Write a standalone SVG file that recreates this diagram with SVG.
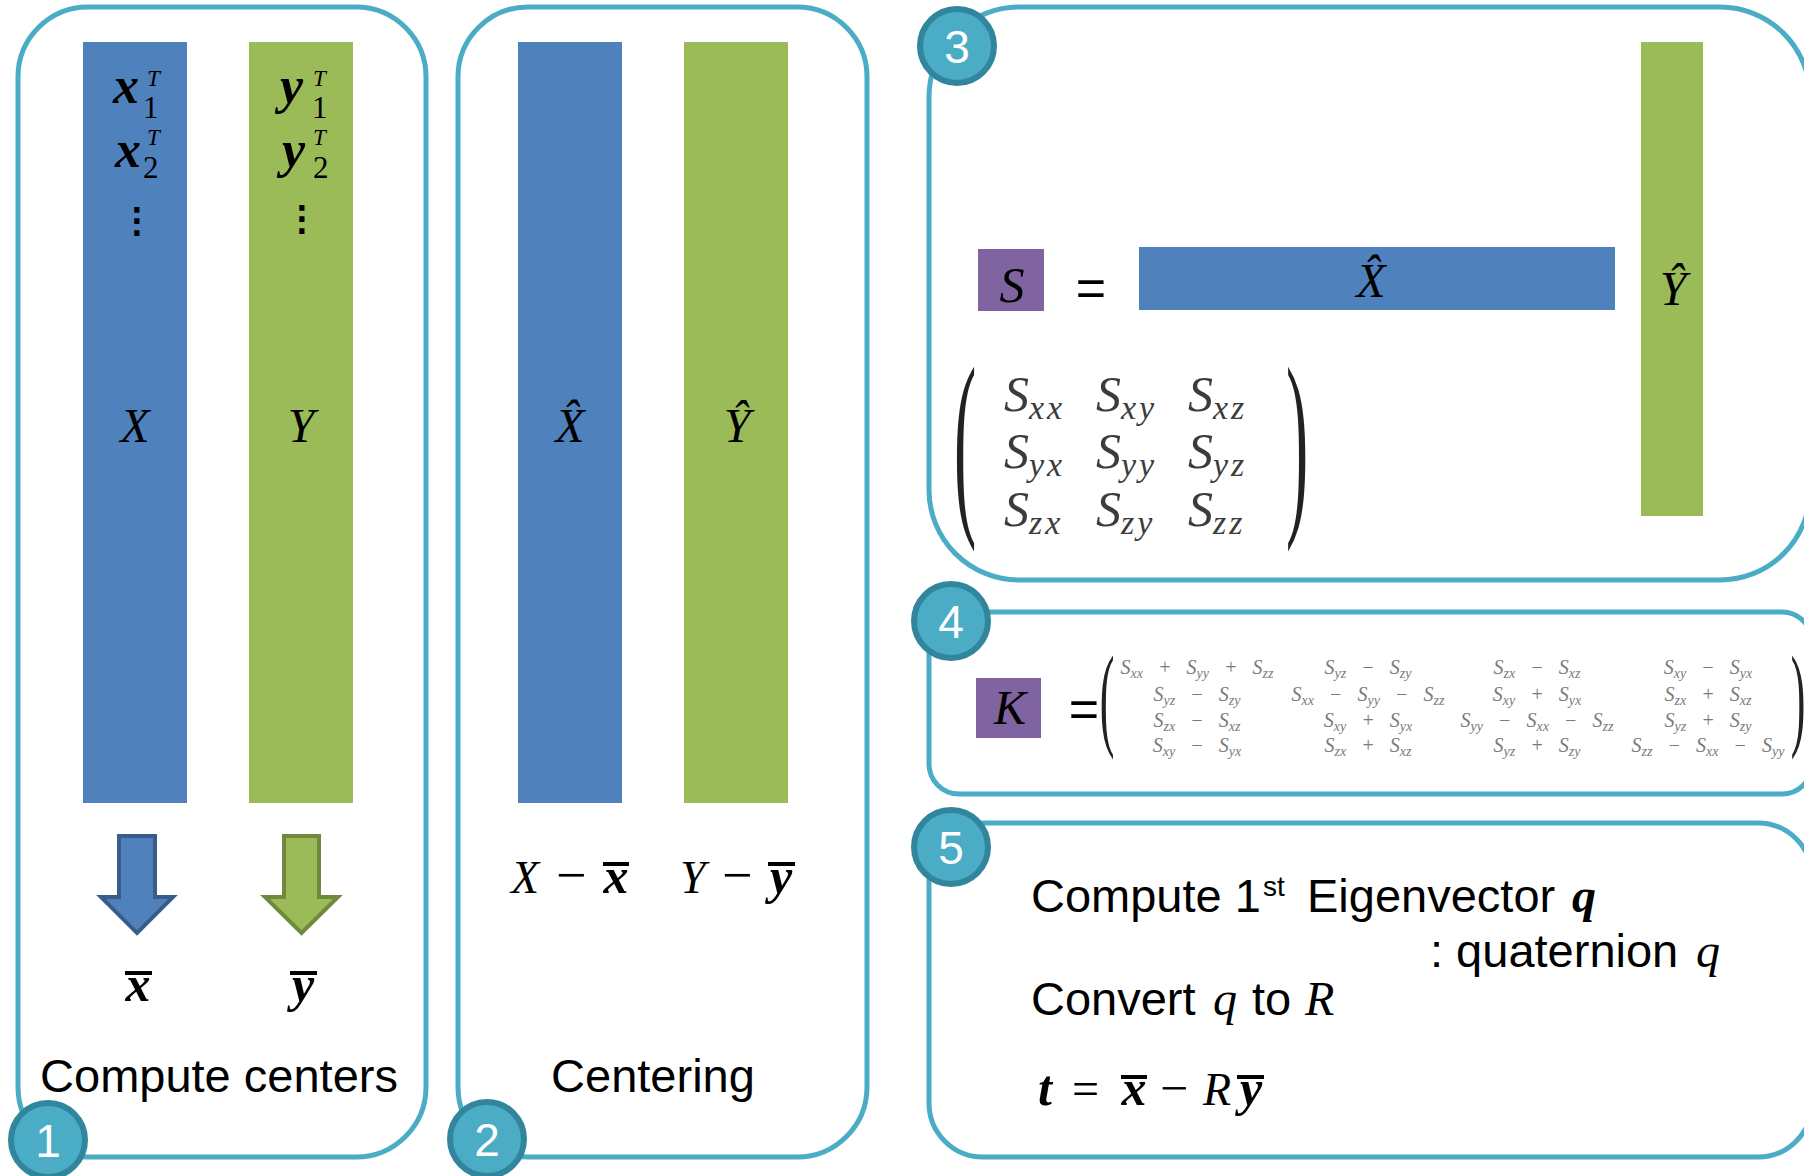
<svg xmlns="http://www.w3.org/2000/svg" width="1804" height="1176" viewBox="0 0 1804 1176">
<style>
.panel{fill:#fff;stroke:#4BACC6;stroke-width:5}
.badge circle{fill:#4BACC6;stroke:#31859C;stroke-width:6}
.badge text{font-family:"Liberation Sans",Arial,sans-serif;font-size:46px;fill:#fff;text-anchor:middle}
.blue{fill:#4F81BD}
.green{fill:#9BBB59}
.purple{fill:#8064A2}
.sans{font-family:"Liberation Sans",Arial,sans-serif;fill:#000}
.m{font-family:"Liberation Serif","Times New Roman",serif;font-style:italic;fill:#000}
.bi{font-weight:bold;font-style:italic}
.up{font-style:normal}
.nw{font-weight:normal}
.mid{text-anchor:middle}
.sub{font-size:31px;font-style:normal;font-weight:normal}
.sup{font-size:23px;font-weight:normal}
.dots{font-family:"DejaVu Sans",sans-serif;font-size:34px;text-anchor:middle;fill:#000;stroke:#000;stroke-width:1.6}
.sm{font-family:"Liberation Serif","Times New Roman",serif;font-style:italic;font-size:50px;fill:#3c3c3c}
.sm tspan{font-size:34px;letter-spacing:3px}
.km{font-family:"Liberation Serif","Times New Roman",serif;font-style:italic;font-size:20px;fill:#7a7a7a;text-anchor:middle;word-spacing:10px}
.km tspan.s{font-size:14px}
.paren{font-family:"Liberation Serif","Times New Roman",serif;fill:#222;text-anchor:middle}
.bar{fill:#000}
</style>

<g id="panel1">
  <rect class="panel" x="18" y="7" width="408" height="1150" rx="70"/>
  <rect class="blue" x="83" y="42" width="104" height="761"/>
  <rect class="green" x="249" y="42" width="104" height="761"/>
  <text x="113" y="103" class="m bi" font-size="52">x<tspan x="143" dy="15" class="sub">1</tspan><tspan x="147" dy="-32" class="sup">T</tspan><tspan x="115" dy="81">x</tspan><tspan x="143" dy="11" class="sub">2</tspan><tspan x="147" dy="-33" class="sup">T</tspan></text>
  <text x="137" y="232" class="dots">⋮</text>
  <text x="280" y="103" class="m bi" font-size="52">y<tspan x="312" dy="15" class="sub">1</tspan><tspan x="313" dy="-32" class="sup">T</tspan><tspan x="282" dy="81">y</tspan><tspan x="313" dy="11" class="sub">2</tspan><tspan x="313" dy="-33" class="sup">T</tspan></text>
  <text x="302" y="230" class="dots">⋮</text>
  <text x="135" y="442" class="m mid" font-size="48">X</text>
  <text x="301" y="442" class="m mid" font-size="48">Y</text>
  <rect class="bar" x="125" y="971" width="27" height="4"/>
  <text x="138" y="1001" class="m bi mid" font-size="50">x</text>
  <rect class="bar" x="290" y="971" width="27" height="4"/>
  <text x="303" y="1001" class="m bi mid" font-size="50">y</text>
  <text x="219" y="1092" class="sans mid" font-size="47">Compute centers</text>
</g>

<g id="panel2">
  <rect class="panel" x="458" y="7" width="409" height="1150" rx="70"/>
  <rect class="blue" x="518" y="42" width="104" height="761"/>
  <rect class="green" x="684" y="42" width="104" height="761"/>
  <text x="570" y="442" class="m mid" font-size="48">X̂</text>
  <text x="737" y="442" class="m mid" font-size="48">Ŷ</text>
  <text x="511" y="893" class="m" font-size="46">X</text>
  <text x="556" y="893" class="m up" font-size="54">−</text>
  <rect class="bar" x="603" y="862" width="26" height="4"/>
  <text x="616" y="893" class="m bi mid" font-size="50">x</text>
  <text x="680" y="893" class="m" font-size="46">Y</text>
  <text x="722" y="893" class="m up" font-size="54">−</text>
  <rect class="bar" x="768" y="862" width="27" height="4"/>
  <text x="781" y="893" class="m bi mid" font-size="50">y</text>
  <text x="653" y="1092" class="sans mid" font-size="47">Centering</text>
</g>

<g id="panel3">
  <rect class="panel" x="929" y="7" width="881" height="573" rx="90"/>
  <rect class="purple" x="978" y="249" width="66" height="62"/>
  <text x="1012" y="302" class="m mid" font-size="50">S</text>
  <text x="1091" y="306" class="sans mid" font-size="52">=</text>
  <rect class="blue" x="1139" y="247" width="476" height="63"/>
  <text x="1371" y="297" class="m mid" font-size="48">X̂</text>
  <rect class="green" x="1641" y="42" width="62" height="474"/>
  <text x="1673" y="305" class="m mid" font-size="48">Ŷ</text>
  <text class="paren" font-size="58" transform="translate(965,508) scale(1.15,3.5)">(</text>
  <text class="paren" font-size="58" transform="translate(1297,508) scale(1.15,3.5)">)</text>
  <text x="1004" y="411" class="sm">S<tspan dy="8">xx</tspan></text>
  <text x="1096" y="411" class="sm">S<tspan dy="8">xy</tspan></text>
  <text x="1188" y="411" class="sm">S<tspan dy="8">xz</tspan></text>
  <text x="1004" y="468" class="sm">S<tspan dy="8">yx</tspan></text>
  <text x="1096" y="468" class="sm">S<tspan dy="8">yy</tspan></text>
  <text x="1188" y="468" class="sm">S<tspan dy="8">yz</tspan></text>
  <text x="1004" y="526" class="sm">S<tspan dy="8">zx</tspan></text>
  <text x="1096" y="526" class="sm">S<tspan dy="8">zy</tspan></text>
  <text x="1188" y="526" class="sm">S<tspan dy="8">zz</tspan></text>
</g>

<g id="panel4">
  <rect class="panel" x="929" y="612" width="883" height="182" rx="30"/>
  <rect class="purple" x="976" y="678" width="65" height="60"/>
  <text x="1010" y="724" class="m mid" font-size="48">K</text>
  <text x="1084" y="727" class="sans mid" font-size="52">=</text>
  <text class="paren" font-size="40" fill="#8a8a8a" transform="translate(1107,735) scale(1.1,2.87)">(</text>
  <text class="paren" font-size="40" fill="#8a8a8a" transform="translate(1798,735) scale(1.1,2.87)">)</text>
  <text x="1197" y="674" class="km">S<tspan class="s" dy="4">xx</tspan><tspan dy="-4"> + S</tspan><tspan class="s" dy="4">yy</tspan><tspan dy="-4"> + S</tspan><tspan class="s" dy="4">zz</tspan></text>
  <text x="1368" y="674" class="km">S<tspan class="s" dy="4">yz</tspan><tspan dy="-4"> − S</tspan><tspan class="s" dy="4">zy</tspan></text>
  <text x="1537" y="674" class="km">S<tspan class="s" dy="4">zx</tspan><tspan dy="-4"> − S</tspan><tspan class="s" dy="4">xz</tspan></text>
  <text x="1708" y="674" class="km">S<tspan class="s" dy="4">xy</tspan><tspan dy="-4"> − S</tspan><tspan class="s" dy="4">yx</tspan></text>
  <text x="1197" y="701" class="km">S<tspan class="s" dy="4">yz</tspan><tspan dy="-4"> − S</tspan><tspan class="s" dy="4">zy</tspan></text>
  <text x="1368" y="701" class="km">S<tspan class="s" dy="4">xx</tspan><tspan dy="-4"> − S</tspan><tspan class="s" dy="4">yy</tspan><tspan dy="-4"> − S</tspan><tspan class="s" dy="4">zz</tspan></text>
  <text x="1537" y="701" class="km">S<tspan class="s" dy="4">xy</tspan><tspan dy="-4"> + S</tspan><tspan class="s" dy="4">yx</tspan></text>
  <text x="1708" y="701" class="km">S<tspan class="s" dy="4">zx</tspan><tspan dy="-4"> + S</tspan><tspan class="s" dy="4">xz</tspan></text>
  <text x="1197" y="727" class="km">S<tspan class="s" dy="4">zx</tspan><tspan dy="-4"> − S</tspan><tspan class="s" dy="4">xz</tspan></text>
  <text x="1368" y="727" class="km">S<tspan class="s" dy="4">xy</tspan><tspan dy="-4"> + S</tspan><tspan class="s" dy="4">yx</tspan></text>
  <text x="1537" y="727" class="km">S<tspan class="s" dy="4">yy</tspan><tspan dy="-4"> − S</tspan><tspan class="s" dy="4">xx</tspan><tspan dy="-4"> − S</tspan><tspan class="s" dy="4">zz</tspan></text>
  <text x="1708" y="727" class="km">S<tspan class="s" dy="4">yz</tspan><tspan dy="-4"> + S</tspan><tspan class="s" dy="4">zy</tspan></text>
  <text x="1197" y="752" class="km">S<tspan class="s" dy="4">xy</tspan><tspan dy="-4"> − S</tspan><tspan class="s" dy="4">yx</tspan></text>
  <text x="1368" y="752" class="km">S<tspan class="s" dy="4">zx</tspan><tspan dy="-4"> + S</tspan><tspan class="s" dy="4">xz</tspan></text>
  <text x="1537" y="752" class="km">S<tspan class="s" dy="4">yz</tspan><tspan dy="-4"> + S</tspan><tspan class="s" dy="4">zy</tspan></text>
  <text x="1708" y="752" class="km">S<tspan class="s" dy="4">zz</tspan><tspan dy="-4"> − S</tspan><tspan class="s" dy="4">xx</tspan><tspan dy="-4"> − S</tspan><tspan class="s" dy="4">yy</tspan></text>
</g>

<g id="panel5">
  <rect class="panel" x="929" y="823" width="883" height="334" rx="54"/>
  <text x="1031" y="912" class="sans" font-size="47">Compute 1<tspan x="1263" font-size="28" dy="-16">st</tspan><tspan x="1307" dy="16">Eigenvector</tspan><tspan x="1572" class="m bi" font-size="48">q</tspan></text>
  <text x="1430" y="967" class="sans" font-size="47">: quaternion<tspan x="1696" class="m" font-size="48">q</tspan></text>
  <text x="1031" y="1015" class="sans" font-size="47">Convert<tspan x="1213" class="m" font-size="48">q</tspan><tspan x="1252">to</tspan><tspan x="1305" class="m" font-size="48">R</tspan></text>
  <text x="1038" y="1105" class="m bi" font-size="50">t</text>
  <text x="1072" y="1105" class="m up" font-size="48">=</text>
  <rect class="bar" x="1121" y="1075" width="26" height="4"/>
  <text x="1134" y="1105" class="m bi mid" font-size="50">x</text>
  <text x="1160" y="1105" class="m up" font-size="50">−</text>
  <text x="1203" y="1105" class="m" font-size="46">R</text>
  <rect class="bar" x="1237" y="1075" width="27" height="4"/>
  <text x="1251" y="1105" class="m bi mid" font-size="50">y</text>
</g>

<g id="connectors">
  <path d="M119,836 H155 V897 H173 L137,933 L101,897 H119 Z" fill="#4F81BD" stroke="#385D8A" stroke-width="4"/>
  <path d="M284,836 H319 V897 H338 L301.5,933 L265,897 H284 Z" fill="#9BBB59" stroke="#71893F" stroke-width="4"/>
</g>

<g id="badge1" class="badge"><circle cx="48" cy="1140" r="37"/><text x="48" y="1157">1</text></g>
<g id="badge2" class="badge"><circle cx="487" cy="1139" r="37"/><text x="487" y="1156">2</text></g>
<g id="badge3" class="badge"><circle cx="957" cy="46" r="37"/><text x="957" y="63">3</text></g>
<g id="badge4" class="badge"><circle cx="951" cy="621" r="37"/><text x="951" y="638">4</text></g>
<g id="badge5" class="badge"><circle cx="951" cy="847" r="37"/><text x="951" y="864">5</text></g>
</svg>
